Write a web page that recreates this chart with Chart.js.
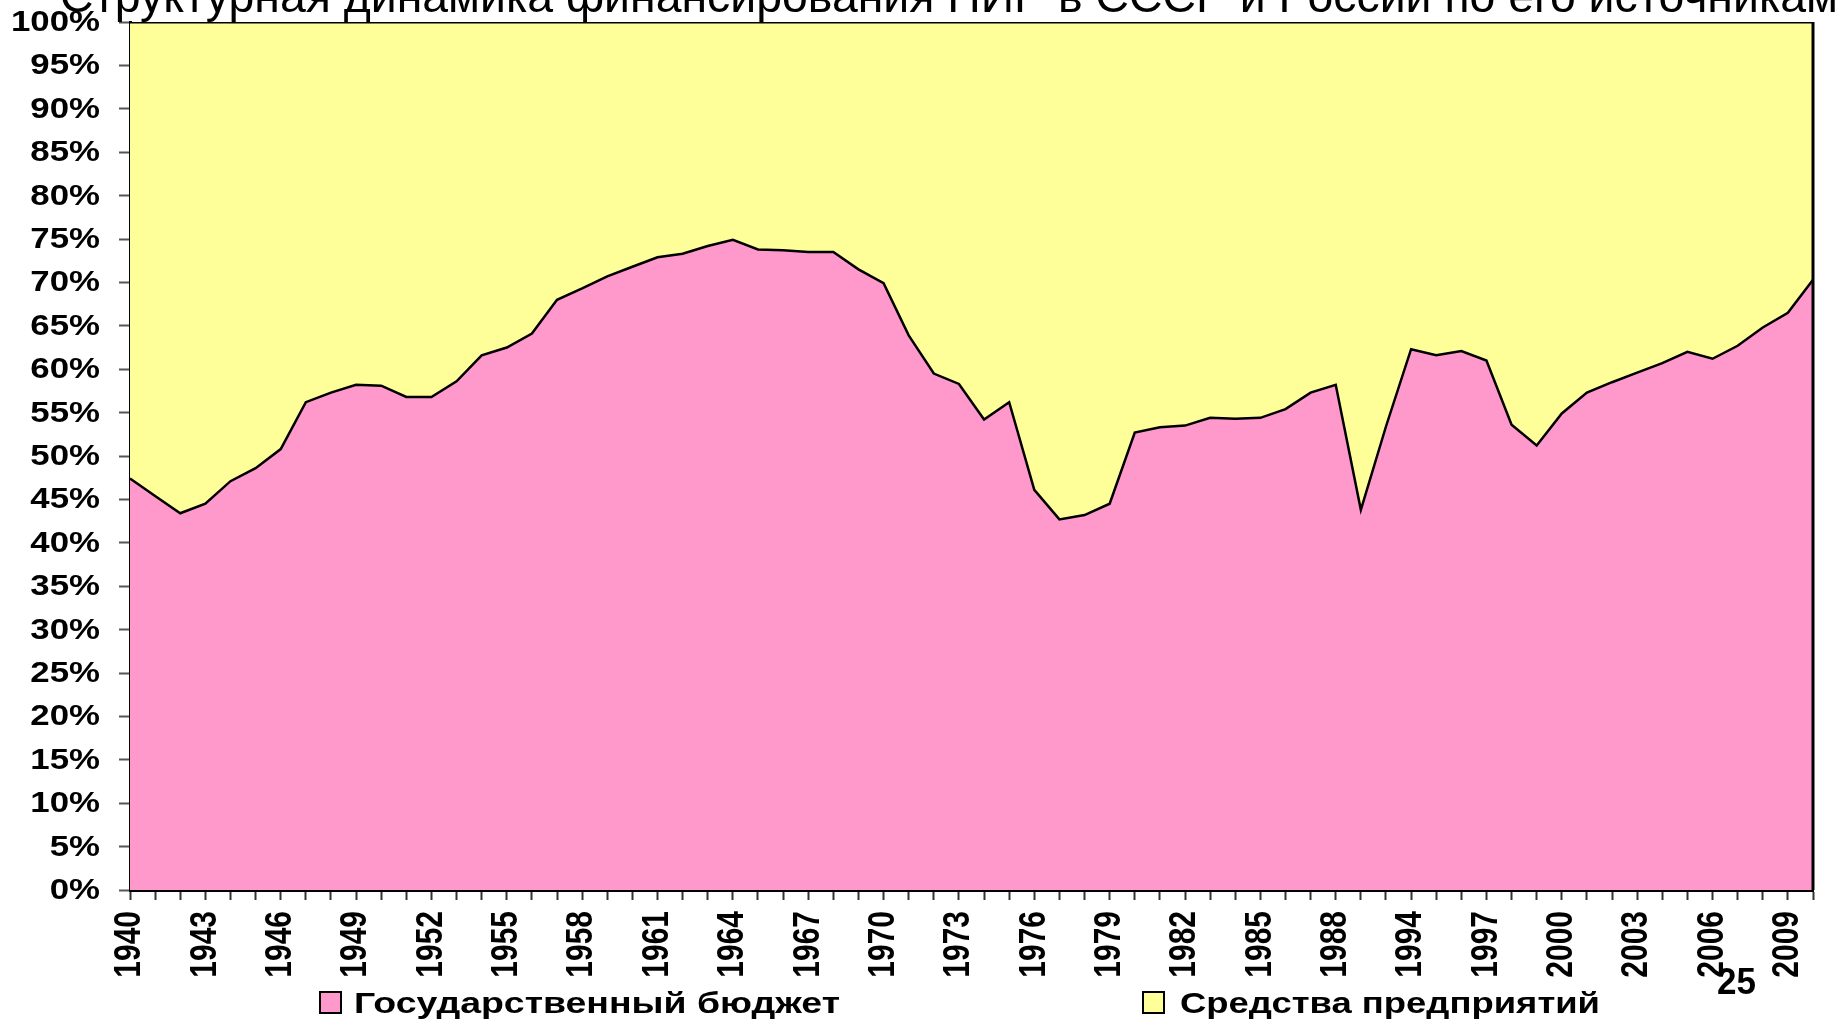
<!DOCTYPE html>
<html>
<head>
<meta charset="utf-8">
<title>Структурная динамика финансирования НИР</title>
<script src="https://cdn.jsdelivr.net/npm/chart.js@4/dist/chart.umd.min.js"></script>
<style>
	html, body { margin: 0; padding: 0; background: #fff; }
	#wrap { position: relative; width: 1848px; height: 1019px; }
</style>
</head>
<body>
<div id="wrap"><canvas id="chart"></canvas></div>
<script>

// years on the category axis (two missing between 1988 and 1994)
const years = [
	'1940', '1941', '1942', '1943', '1944', '1945', '1946', '1947', '1948', '1949',
	'1950', '1951', '1952', '1953', '1954', '1955', '1956', '1957', '1958', '1959',
	'1960', '1961', '1962', '1963', '1964', '1965', '1966', '1967', '1968', '1969',
	'1970', '1971', '1972', '1973', '1974', '1975', '1976', '1977', '1978', '1979',
	'1980', '1981', '1982', '1983', '1984', '1985', '1986', '1987', '1988',
	'1990', '1992',
	'1994', '1995', '1996', '1997', '1998', '1999', '2000', '2001', '2002', '2003',
	'2004', '2005', '2006', '2007', '2008', '2009', '2010',
];

// share of the state budget, %
const budget = [
	47.4, 45.4, 43.4, 44.5, 47.1, 48.6, 50.8, 56.2, 57.3, 58.2,
	58.1, 56.8, 56.8, 58.6, 61.6, 62.5, 64.1, 68.0, 69.3, 70.7,
	71.8, 72.9, 73.3, 74.2, 74.9, 73.8, 73.7, 73.5, 73.5, 71.5,
	69.9, 63.9, 59.5, 58.3, 54.2, 56.2, 46.1, 42.7, 43.2, 44.5,
	52.7, 53.3, 53.5, 54.4, 54.3, 54.4, 55.4, 57.3, 58.2,
	43.8, 53.4,
	62.3, 61.6, 62.1, 61.0, 53.6, 51.2, 54.9, 57.3, 58.5, 59.6,
	60.7, 62.0, 61.2, 62.7, 64.8, 66.5, 70.3,
];

// share of enterprises' own funds, %
const enterprises = [
	52.6, 54.6, 56.6, 55.5, 52.9, 51.4, 49.2, 43.8, 42.7, 41.8,
	41.9, 43.2, 43.2, 41.4, 38.4, 37.5, 35.9, 32.0, 30.7, 29.3,
	28.2, 27.1, 26.7, 25.8, 25.1, 26.2, 26.3, 26.5, 26.5, 28.5,
	30.1, 36.1, 40.5, 41.7, 45.8, 43.8, 53.9, 57.3, 56.8, 55.5,
	47.3, 46.7, 46.5, 45.6, 45.7, 45.6, 44.6, 42.7, 41.8,
	56.2, 46.6,
	37.7, 38.4, 37.9, 39.0, 46.4, 48.8, 45.1, 42.7, 41.5, 40.4,
	39.3, 38.0, 38.8, 37.3, 35.2, 33.5, 29.7,
];

const seriesNames = ['Государственный бюджет', 'Средства предприятий'];
const seriesColors = ['#FF99CC', '#FFFF99'];

const title = 'Структурная динамика финансирования НИР в СССР и России по его источникам';
const slideNumber = '25';

const sans = "'Liberation Sans', Arial, sans-serif";

// the slide was stretched sideways, so its text is wider than the font
function wideText(ctx, text, x, y, sx, angle) {
	ctx.save();
	ctx.translate(x, y);
	ctx.scale(sx, 1);
	if (angle) ctx.rotate(angle);
	ctx.fillText(text, 0, 0);
	ctx.restore();
}

// tick labels, title (cut by the top edge), legend, slide number, right frame
const decor = {
	id: 'decor',
	afterDatasetsDraw(chart) {
		let { ctx, chartArea } = chart;
		ctx.save();
		ctx.strokeStyle = '#000';
		ctx.lineWidth = 3;
		ctx.beginPath();
		ctx.moveTo(chartArea.right, chartArea.top);
		ctx.lineTo(chartArea.right, chartArea.bottom);
		ctx.stroke();
		ctx.restore();
	},
	afterDraw(chart) {
		let { ctx, scales } = chart;
		ctx.save();
		ctx.fillStyle = '#000';

		// y tick labels
		ctx.font = 'bold 29px ' + sans;
		ctx.textAlign = 'right';
		ctx.textBaseline = 'middle';
		scales.y.ticks.forEach((tick, i) => {
			wideText(ctx, tick.label, 100, scales.y.getPixelForTick(i) + 1, 1.2);
		});

		// x tick labels, rotated
		ctx.font = 'bold 30px ' + sans;
		scales.x.ticks.forEach((tick, i) => {
			if (!tick.label) return;
			wideText(ctx, tick.label, scales.x.getPixelForTick(i), 911, 1.25, -Math.PI / 2);
		});

		ctx.textAlign = 'left';
		ctx.textBaseline = 'alphabetic';
		ctx.font = '46px ' + sans;
		let size = 46 * 1780 / ctx.measureText(title).width;
		ctx.font = size.toFixed(1) + 'px ' + sans;
		ctx.fillText(title, 60, 12);

		let items = [
			{ box: 320, text: 354, width: 486 },
			{ box: 1143, text: 1180, width: 420 },
		];
		ctx.font = 'bold 30px ' + sans;
		chart.data.datasets.forEach((ds, i) => {
			ctx.fillStyle = ds.backgroundColor;
			ctx.fillRect(items[i].box, 992, 21, 21);
			ctx.lineWidth = 2;
			ctx.strokeStyle = '#000';
			ctx.strokeRect(items[i].box, 992, 21, 21);
			ctx.fillStyle = '#000';
			let sx = items[i].width / ctx.measureText(ds.label).width;
			wideText(ctx, ds.label, items[i].text, 1013, sx);
		});

		ctx.font = 'bold 36px ' + sans;
		let sx = 39 / ctx.measureText(slideNumber).width;
		wideText(ctx, slideNumber, 1717, 994, sx);
		ctx.restore();
	},
};

let chart = new Chart(document.getElementById('chart'), {
	type: 'line',
	data: {
		labels: years,
		datasets: [
			{
				label: seriesNames[0],
				data: budget,
				backgroundColor: seriesColors[0],
				borderColor: '#000',
				borderWidth: 2.5,
				fill: 'origin',
			},
			{
				label: seriesNames[1],
				data: enterprises,
				backgroundColor: seriesColors[1],
				borderColor: '#000',
				borderWidth: 3,
				fill: '-1',
			},
		],
	},
	options: {
		responsive: true,
		maintainAspectRatio: false,
		animation: false,
		layout: { padding: { left: 0, top: 22, right: 35, bottom: 0 } },
		elements: {
			line: { tension: 0 },
			point: { radius: 0, hoverRadius: 0 },
		},
		plugins: {
			legend: { display: false },
			tooltip: { enabled: false },
		},
		scales: {
			x: {
				offset: false,
				afterFit(scale) {
					scale.height = 129;
					scale.paddingLeft = 0;
					scale.paddingRight = 0;
				},
				grid: {
					drawOnChartArea: false,
					tickLength: 10,
					tickColor: '#333',
					tickWidth: 2,
				},
				border: { color: '#000', width: 3 },
				ticks: {
					display: false,
					autoSkip: false,
					callback(value, index) {
						return index % 3 === 0 ? this.getLabelForValue(value) : '';
					},
				},
			},
			y: {
				stacked: true,
				min: 0,
				max: 100,
				afterFit(scale) {
					scale.width = 130;
					scale.paddingTop = 0;
					scale.paddingBottom = 0;
				},
				grid: {
					drawOnChartArea: false,
					tickLength: 11,
					tickColor: '#555',
					tickWidth: 2,
				},
				border: { color: '#000', width: 3 },
				ticks: {
					display: false,
					stepSize: 5,
					callback: (value) => value + '%',
				},
			},
		},
	},
	plugins: [decor],
});

</script>
</body>
</html>
